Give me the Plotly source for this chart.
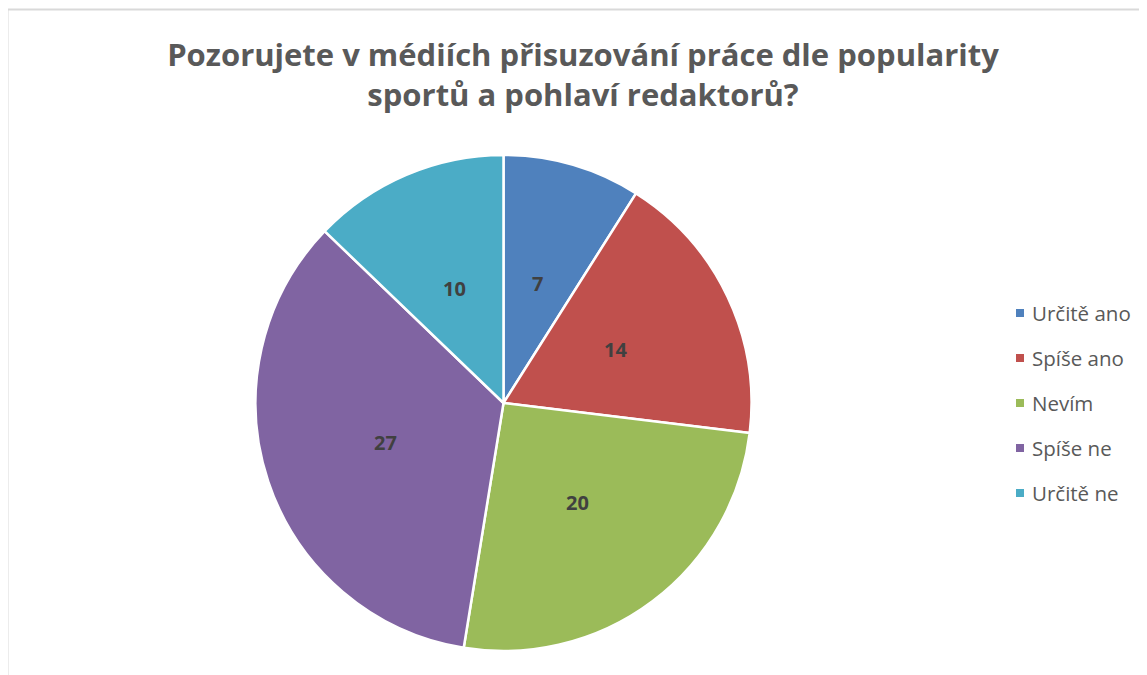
import math
import plotly.graph_objects as go

categories = ["Určitě ano", "Spíše ano", "Nevím", "Spíše ne", "Určitě ne"]
values = [7, 14, 20, 27, 10]
colors = ["#4F81BD", "#C0504D", "#9BBB59", "#8064A2", "#4BACC6"]
title_text = "Pozorujete v médiích přisuzování práce dle popularity<br>sportů a pohlaví redaktorů?"

# page body has an 8px margin; work in page pixels and convert
OFF = 8
W, H = 1147 - OFF, 675 - OFF


def fx(px):
    return (px - OFF) / W


def fy(py):
    return 1 - (py - OFF) / H


cx, cy, R = 503.5, 403, 248

fig = go.Figure()
fig.add_trace(go.Pie(
    labels=categories,
    values=values,
    sort=False,
    direction="clockwise",
    rotation=0,
    marker=dict(colors=colors, line=dict(color="white", width=2.5)),
    textinfo="none",
    domain=dict(x=[fx(cx - R), fx(cx + R)], y=[fy(cy + R), fy(cy - R)]),
    showlegend=False,
    hoverinfo="label+value+percent",
))

shapes = [dict(type="rect", xref="paper", yref="paper",
               x0=fx(7.5), x1=1.2, y0=-0.2, y1=fy(9.5),
               line=dict(color="#D9D9D9", width=2), fillcolor="rgba(0,0,0,0)", layer="below")]
annotations = []

# data labels at half radius along each slice's mid-angle (clockwise from top)
total = sum(values)
cum = 0
for v in values:
    mid = (cum + v / 2) / total * 2 * math.pi
    cum += v
    px = cx + 0.5 * R * math.sin(mid)
    py = cy - 0.5 * R * math.cos(mid)
    annotations.append(dict(text=str(v), xref="paper", yref="paper", x=fx(px), y=fy(py),
                            xanchor="center", yanchor="middle", showarrow=False,
                            font=dict(family="Open Sans", size=20, color="#404040", weight="bold")))

leg_y0, leg_step = 313, 45
for i, (lab, col) in enumerate(zip(categories, colors)):
    yc = leg_y0 + i * leg_step
    shapes.append(dict(type="rect", xref="paper", yref="paper",
                       x0=fx(1016), x1=fx(1024), y0=fy(yc + 4), y1=fy(yc - 4),
                       line=dict(width=0), fillcolor=col))
    annotations.append(dict(text=lab, xref="paper", yref="paper", x=fx(1030), y=fy(yc),
                            xanchor="left", yanchor="middle", showarrow=False,
                            font=dict(family="Open Sans", size=20.5, color="#595959")))

fig.update_layout(
    width=W, height=H,
    margin=dict(l=0, r=0, t=0, b=0),
    paper_bgcolor="white",
    plot_bgcolor="white",
    title=dict(text=title_text, x=fx(583), xanchor="center", y=fy(66), yanchor="top",
               font=dict(family="Open Sans", size=31, color="#595959", weight="bold")),
    shapes=shapes,
    annotations=annotations,
)

fig.write_html("out.html")
